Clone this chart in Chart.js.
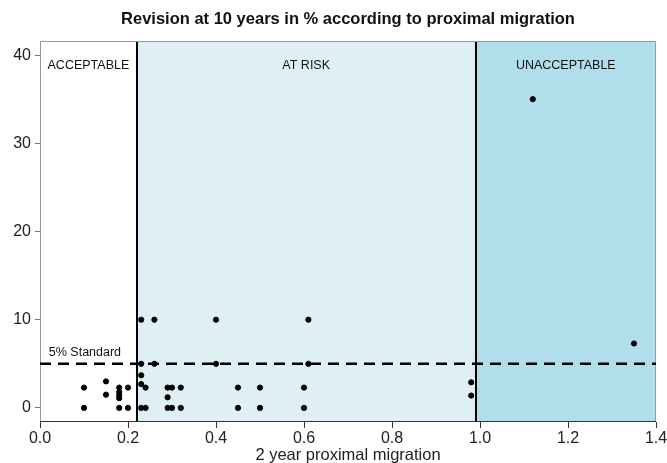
<!DOCTYPE html>
<html>
<head>
<meta charset="utf-8">
<script src="https://cdn.jsdelivr.net/npm/chart.js@4"></script>
<style>
  body { margin: 0; background: #fff; }
  #wrap { width: 667px; height: 463px; }
</style>
</head>
<body>
<div id="wrap"><canvas id="chart" width="667" height="463"></canvas></div>
<script>
// 2 year proximal migration (mm) and revision at 10 years (%)
const migration = [0.10, 0.10, 0.15, 0.15, 0.18, 0.18, 0.18, 0.18, 0.18, 0.20, 0.20,
  0.23, 0.23, 0.23, 0.23, 0.23, 0.24, 0.24, 0.26, 0.26,
  0.29, 0.29, 0.29, 0.30, 0.30, 0.32, 0.32, 0.40, 0.40, 0.45, 0.45, 0.50, 0.50,
  0.60, 0.60, 0.61, 0.61, 0.98, 0.98, 1.12, 1.35]
const revision = [2.3, 0, 3.0, 1.5, 2.3, 1.8, 1.4, 1.1, 0, 2.3, 0,
  10, 5, 3.7, 2.7, 0, 2.3, 0, 10, 5,
  2.3, 1.2, 0, 2.3, 0, 2.3, 0, 10, 5, 2.3, 0, 2.3, 0,
  2.3, 0, 10, 5, 2.9, 1.4, 35, 7.3]

// zones
const zoneNames = ['ACCEPTABLE', 'AT RISK', 'UNACCEPTABLE']
const zoneEdges = [0, 0.22, 0.99, 1.4]
const zoneColors = ['#ffffff', '#dff0f5', '#b0dfeb']
const standardValue = 5
const standardLabel = '5% Standard'
const chartTitle = 'Revision at 10 years in % according to proximal migration'

const xTicks = [0.0, 0.2, 0.4, 0.6, 0.8, 1.0, 1.2, 1.4]
const yTicks = [0, 10, 20, 30, 40]

const points = migration.map((m, i) => ({x: m, y: revision[i]}))
const FONT = '"Liberation Sans", Arial, sans-serif'

const zonesPlugin = {
  id: 'zones',
  beforeDatasetsDraw(chart) {
    const {ctx, chartArea, scales} = chart
    const x = scales.x, y = scales.y
    ctx.save()
    zoneNames.forEach((name, i) => {
      const x0 = x.getPixelForValue(zoneEdges[i])
      const x1 = x.getPixelForValue(zoneEdges[i + 1])
      ctx.fillStyle = zoneColors[i]
      ctx.fillRect(x0, chartArea.top, x1 - x0, chartArea.bottom - chartArea.top)
      ctx.fillStyle = '#111'
      ctx.font = '12.5px ' + FONT
      ctx.textAlign = 'center'
      ctx.textBaseline = 'middle'
      ctx.fillText(name, (x0 + x1) / 2, y.getPixelForValue(38.8))
    })
    // zone boundaries
    ctx.strokeStyle = '#000'
    ctx.lineWidth = 2
    ;[zoneEdges[1], zoneEdges[2]].forEach(v => {
      const px = Math.round(x.getPixelForValue(v))
      ctx.beginPath()
      ctx.moveTo(px, chartArea.top)
      ctx.lineTo(px, chartArea.bottom)
      ctx.stroke()
    })
    // standard label
    ctx.fillStyle = '#111'
    ctx.font = '12.5px ' + FONT
    ctx.textAlign = 'left'
    ctx.textBaseline = 'middle'
    ctx.fillText(standardLabel, x.getPixelForValue(0.02), y.getPixelForValue(6.3))
    // frame
    ctx.strokeStyle = '#999'
    ctx.lineWidth = 1
    ctx.beginPath()
    ctx.moveTo(chartArea.left + 0.5, chartArea.bottom)
    ctx.lineTo(chartArea.left + 0.5, chartArea.top + 0.5)
    ctx.lineTo(chartArea.right - 0.5, chartArea.top + 0.5)
    ctx.lineTo(chartArea.right - 0.5, chartArea.bottom)
    ctx.stroke()
    ctx.strokeStyle = '#333'
    ctx.beginPath()
    ctx.moveTo(chartArea.left, chartArea.bottom - 0.5)
    ctx.lineTo(chartArea.right, chartArea.bottom - 0.5)
    ctx.stroke()
    // title, centred over the plot area
    ctx.fillStyle = '#111'
    ctx.font = 'bold 16.5px ' + FONT
    ctx.textAlign = 'center'
    ctx.fillText(chartTitle, (chartArea.left + chartArea.right) / 2, 19)
    ctx.restore()
  }
}

new Chart(document.getElementById('chart'), {
  type: 'scatter',
  data: {
    datasets: [
      {
        label: 'Revision',
        data: points,
        backgroundColor: '#000',
        borderColor: '#000',
        pointRadius: 2.6,
        pointHoverRadius: 2.6
      },
      {
        type: 'line',
        label: standardLabel,
        data: [{x: zoneEdges[0], y: standardValue}, {x: zoneEdges[3], y: standardValue}],
        borderColor: '#000',
        borderWidth: 2.5,
        borderDash: [11, 7],
        pointRadius: 0,
        fill: false
      }
    ]
  },
  plugins: [zonesPlugin],
  options: {
    responsive: false,
    animation: false,
    layout: {padding: {left: 0, right: 11, top: 41, bottom: 0}},
    plugins: {
      legend: {display: false},
      tooltip: {enabled: false},
      title: {display: false}
    },
    scales: {
      x: {
        type: 'linear',
        min: 0,
        max: 1.4,
        afterBuildTicks: axis => { axis.ticks = xTicks.map(v => ({value: v})) },
        afterFit: axis => {
          axis.height = 41
          axis.paddingLeft = 0
          axis.paddingRight = 0
        },
        border: {display: false},
        grid: {drawOnChartArea: false, tickLength: 6, color: '#333'},
        ticks: {
          color: '#222',
          padding: 1,
          maxRotation: 0,
          font: {family: FONT, size: 16},
          callback: v => v.toFixed(1)
        },
        title: {
          display: true,
          text: '2 year proximal migration',
          color: '#222',
          padding: {top: 0, bottom: -2},
          font: {family: FONT, size: 16.5}
        }
      },
      y: {
        min: -1.6,
        max: 41.6,
        afterBuildTicks: axis => { axis.ticks = yTicks.map(v => ({value: v})) },
        afterFit: axis => {
          axis.width = 40
          axis.paddingTop = 0
          axis.paddingBottom = 0
        },
        border: {display: false},
        grid: {drawOnChartArea: false, tickLength: 5, color: '#777'},
        ticks: {
          color: '#222',
          padding: 4,
          font: {family: FONT, size: 16}
        }
      }
    }
  }
})
</script>
</body>
</html>
